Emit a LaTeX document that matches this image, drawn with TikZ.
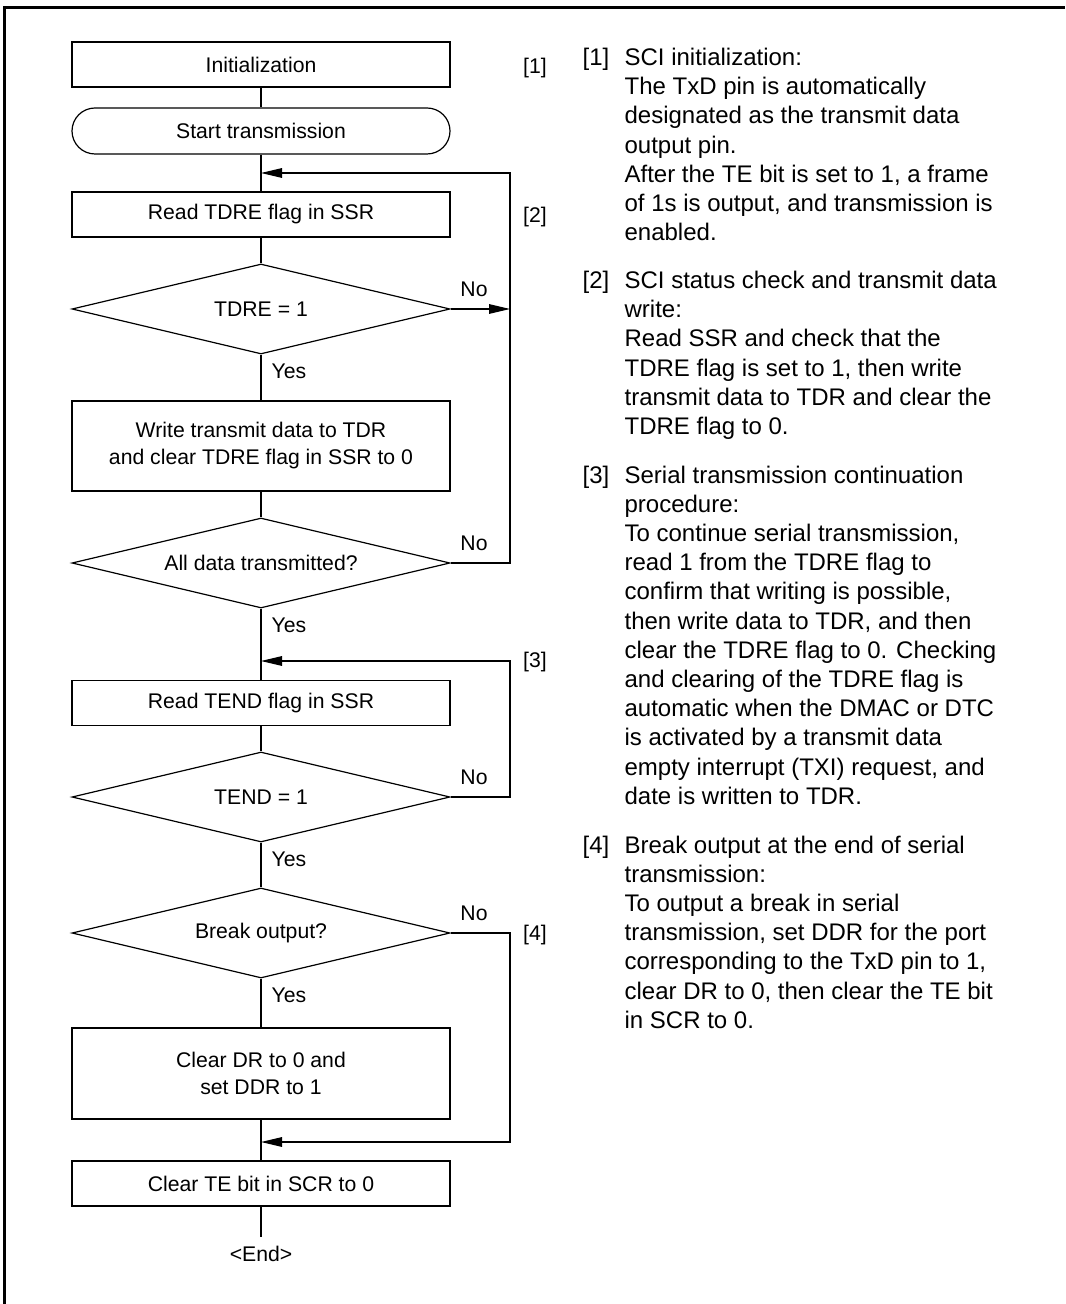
\documentclass[tikz,border=0pt]{standalone}
\usepackage{fontspec}
\setmainfont{Liberation Sans}
\usetikzlibrary{arrows.meta,shapes.geometric}

\newcommand{\chartfont}{\fontsize{10.6}{13.5}\selectfont}
\newcommand{\notefont}{\fontsize{12}{14.6}\selectfont}

\begin{document}
\begin{tikzpicture}[x=0.5pt, y=-0.5pt, >={Triangle[length=10.5pt,width=4.8pt]}, line width=0.6pt,
    procbox/.style={draw, rectangle, minimum width=189pt, minimum height=22.5pt, inner sep=0pt, align=center, font=\chartfont},
    termbox/.style={procbox, rounded corners=11.5pt},
    testbox/.style={draw, diamond, aspect=4.2, minimum width=189pt, minimum height=45pt, inner sep=0pt, font=\chartfont},
    lbl/.style={inner sep=0pt, font=\chartfont, text height=7.6pt, text depth=0pt},
    notelbl/.style={inner sep=0pt, anchor=north west, font=\notefont},
    notetxt/.style={inner sep=0pt, anchor=north west, align=left, font=\notefont}]

    \useasboundingbox (0,0) rectangle (1065,1304);

    % --- frame (top and left edge only) ---
    \draw[line width=1.3pt] (4.5,1304) -- (4.5,7.5) -- (1065,7.5);

    % --- flow chart ---
    \node[procbox] (init) at (261,64.5) {Initialization};
    \node[termbox, minimum height=23pt] (start) at (261,131) {Start transmission};
    \node[procbox] (readtdre) at (261,214.5) {Read TDRE flag in SSR};
    \node[testbox] (tdre) at (261,309) {TDRE = 1};
    \node[procbox, minimum height=45pt] (write) at (261,446) {Write transmit data to TDR\\and clear TDRE flag in SSR to 0};
    \node[testbox] (alldata) at (261,563) {All data transmitted?};
    \node[procbox] (readtend) at (261,703) {Read TEND flag in SSR};
    \node[testbox] (tend) at (261,797) {TEND = 1};
    \node[testbox] (brk) at (261,933) {Break output?};
    \node[procbox, minimum height=45.5pt] (cleardr) at (261,1073.5) {Clear DR to 0 and\\set DDR to 1};
    \node[procbox] (clearte) at (261,1183.5) {Clear TE bit in SCR to 0};
    \node[lbl] (endtxt) at (261,1254) {<End>};

    % --- junctions on the main line and the loop-back column ---
    \coordinate (j1) at (261,173);
    \coordinate (j2) at (261,661);
    \coordinate (j3) at (261,1142);
    \coordinate (r1) at (510,309);
    \coordinate (r2) at (510,563);
    \coordinate (r1top) at (510,173);
    \coordinate (r3) at (510,797);
    \coordinate (r3top) at (510,661);
    \coordinate (r4) at (510,933);
    \coordinate (r4bot) at (510,1142);
    \coordinate (endpt) at (261,1237);

    % --- main line ---
    \draw (init) -- (start);
    \draw (start) -- (readtdre);
    \draw (readtdre) -- (tdre);
    \draw (tdre) -- (write);
    \draw (write) -- (alldata);
    \draw (alldata) -- (readtend);
    \draw (readtend) -- (tend);
    \draw (tend) -- (brk);
    \draw (brk) -- (cleardr);
    \draw (cleardr) -- (clearte);
    \draw (clearte) -- (endpt);

    % --- loops ---
    \draw[->] (tdre.east) -- (r1);
    \draw[->] (alldata.east) -- (r2) -- (r1top) -- (j1);
    \draw[->] (tend.east) -- (r3) -- (r3top) -- (j2);
    \draw[->] (brk.east) -- (r4) -- (r4bot) -- (j3);

    % --- Yes / No ---
    \node[lbl] (no1) at (474,289) {No};
    \node[lbl] (no2) at (474,543) {No};
    \node[lbl] (no3) at (474,777) {No};
    \node[lbl] (no4) at (474,913) {No};
    \node[lbl, anchor=west] (yes1) at (271,371) {Yes};
    \node[lbl, anchor=west] (yes2) at (271,625) {Yes};
    \node[lbl, anchor=west] (yes3) at (271,859) {Yes};
    \node[lbl, anchor=west] (yes4) at (271,995) {Yes};

    % --- step marks ---
    \node[lbl] (mark1) at (535,66) {[1]};
    \node[lbl] (mark2) at (535,215) {[2]};
    \node[lbl] (mark3) at (535,660) {[3]};
    \node[lbl] (mark4) at (535,933) {[4]};

    % --- notes ---
    \node[notelbl] (lab1) at (582,44.5) {\strut[1]};
    \node[notetxt] (note1) at (624,44.5) {\strut SCI initialization:\\
        The TxD pin is automatically\\
        designated as the transmit data\\
        output pin.\\
        After the TE bit is set to 1, a frame\\
        of 1s is output, and transmission is\\
        enabled.};

    \node[notelbl] (lab2) at (582,267.5) {\strut[2]};
    \node[notetxt] (note2) at (624,267.5) {\strut SCI status check and transmit data\\
        write:\\
        Read SSR and check that the\\
        TDRE flag is set to 1, then write\\
        transmit data to TDR and clear the\\
        TDRE flag to 0.};

    \node[notelbl] (lab3) at (582,462) {\strut[3]};
    \node[notetxt] (note3) at (624,462) {\strut Serial transmission continuation\\
        procedure:\\
        To continue serial transmission,\\
        read 1 from the TDRE flag to\\
        confirm that writing is possible,\\
        then write data to TDR, and then\\
        clear the TDRE flag to 0. Checking\\
        and clearing of the TDRE flag is\\
        automatic when the DMAC or DTC\\
        is activated by a transmit data\\
        empty interrupt (TXI) request, and\\
        date is written to TDR.};

    \node[notelbl] (lab4) at (582,832) {\strut[4]};
    \node[notetxt] (note4) at (624,832) {\strut Break output at the end of serial\\
        transmission:\\
        To output a break in serial\\
        transmission, set DDR for the port\\
        corresponding to the TxD pin to 1,\\
        clear DR to 0, then clear the TE bit\\
        in SCR to 0.};

\end{tikzpicture}
\end{document}
